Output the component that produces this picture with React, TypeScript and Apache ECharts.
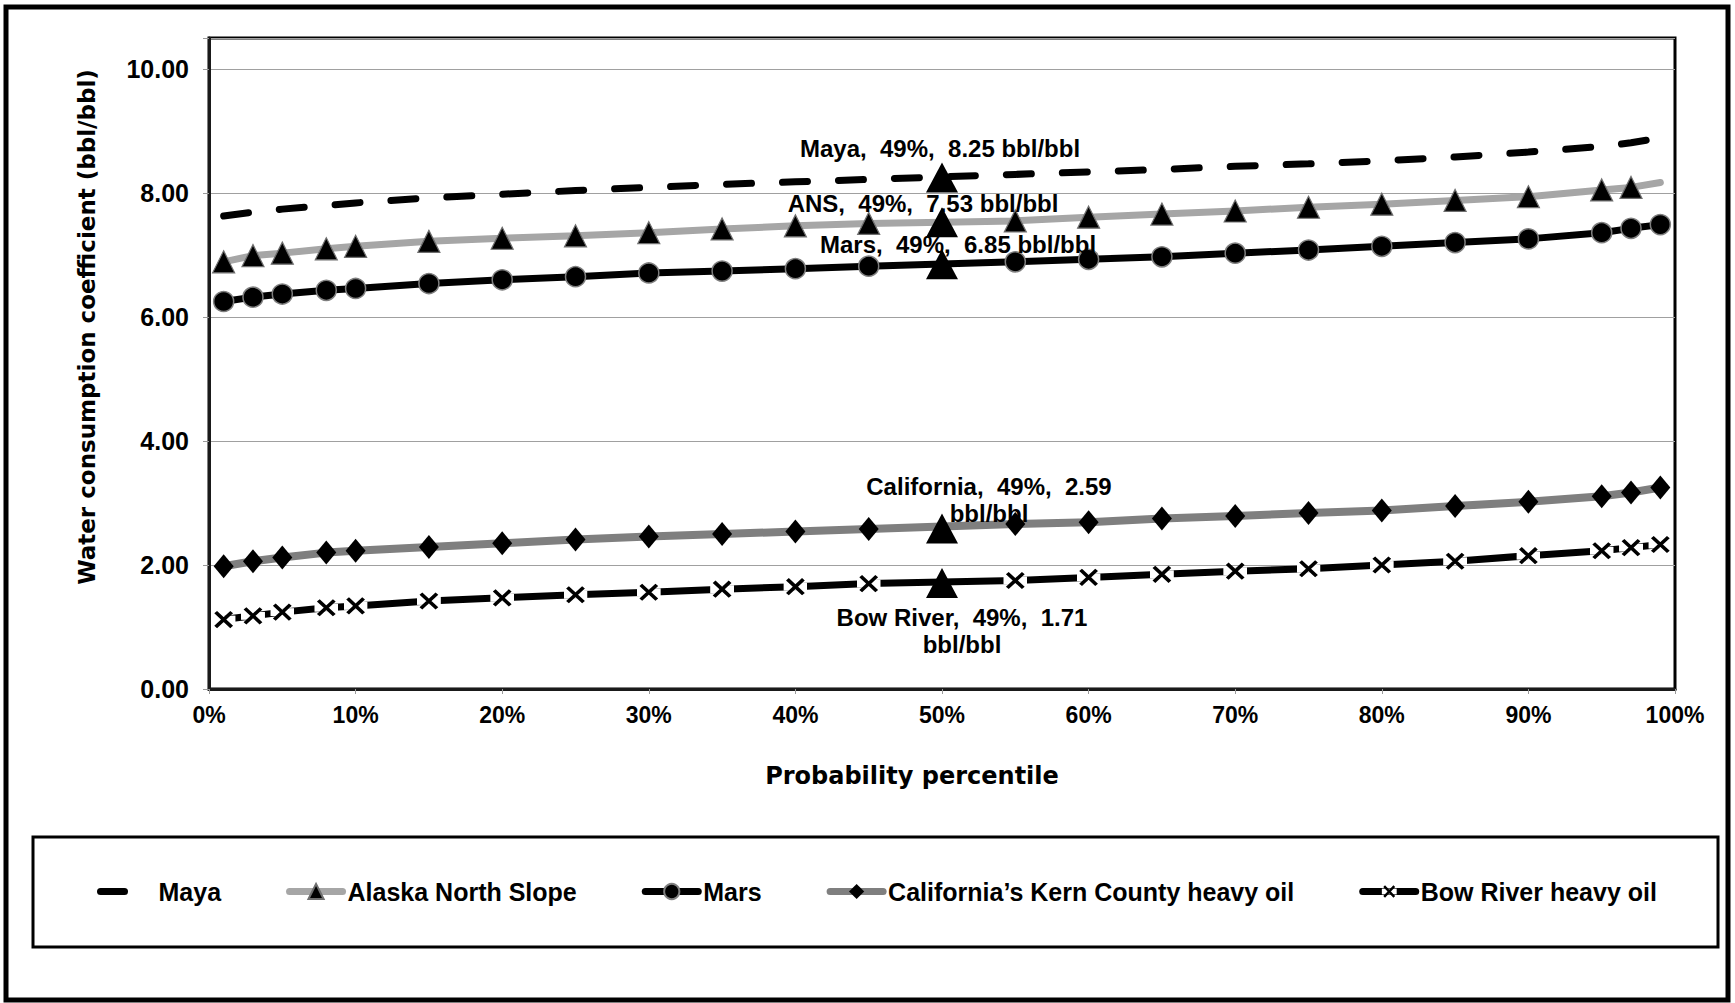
import React, { useEffect, useRef } from 'react';
import * as echarts from 'echarts';

// ---------- data ----------
const percentiles = [1, 3, 5, 8, 10, 15, 20, 25, 30, 35, 40, 45, 55, 60, 65, 70, 75, 80, 85, 90, 95, 97, 99];
const maya = [7.63, 7.69, 7.74, 7.8, 7.84, 7.92, 7.98, 8.04, 8.09, 8.14, 8.18, 8.22, 8.3, 8.34, 8.38, 8.43, 8.47, 8.52, 8.58, 8.66, 8.75, 8.81, 8.89];
const alaskaNorthSlope = [6.89, 6.99, 7.03, 7.1, 7.14, 7.22, 7.27, 7.31, 7.36, 7.42, 7.47, 7.51, 7.55, 7.61, 7.66, 7.71, 7.77, 7.82, 7.88, 7.94, 8.05, 8.09, 8.17];
const mars = [6.25, 6.32, 6.37, 6.43, 6.46, 6.54, 6.6, 6.65, 6.71, 6.74, 6.78, 6.82, 6.89, 6.93, 6.97, 7.03, 7.08, 7.14, 7.2, 7.26, 7.36, 7.43, 7.49];
const california = [1.98, 2.06, 2.12, 2.2, 2.23, 2.29, 2.35, 2.41, 2.46, 2.5, 2.54, 2.58, 2.66, 2.69, 2.75, 2.79, 2.84, 2.88, 2.95, 3.02, 3.11, 3.17, 3.25];
const bowRiver = [1.12, 1.18, 1.24, 1.31, 1.34, 1.42, 1.47, 1.52, 1.56, 1.61, 1.65, 1.7, 1.75, 1.8, 1.85, 1.9, 1.94, 2.0, 2.06, 2.15, 2.23, 2.28, 2.33];
const ansNoMarkerAt = [99];

const seriesNames = ['Maya', 'Alaska North Slope', 'Mars', 'California\u2019s Kern County heavy oil', 'Bow River heavy oil'];

const highlightNames = ['Maya', 'ANS', 'Mars', 'California', 'Bow River'];
const highlightPercentText = [49, 49, 49, 49, 49];
const highlightX = [50, 50, 50, 50, 50];
const highlightY = [8.25, 7.53, 6.85, 2.59, 1.71];
const highlightTwoLines = [false, false, false, true, true];

const yTickStep = 2;
const yMax = 10.5;
const xTickStep = 10;

// ---------- layout (not data) ----------
const highlightLabelOffsets = [
  [-2, -29.5],
  [-19, -18.5],
  [16, -19.5],
  [47, -28.5],
  [20, 48.5],
];

const FONT = '"Liberation Sans", Arial, sans-serif';
const TITLE_FONT = '"DejaVu Sans", sans-serif';

const xMarkSvg =
  '<svg xmlns="http://www.w3.org/2000/svg" width="24" height="21" viewBox="0 0 24 21">' +
  '<rect x="0" y="6" width="24" height="9" fill="#ffffff"/>' +
  '<path d="M4 2 L20 19 M20 2 L4 19" stroke="#000000" stroke-width="3.8" fill="none"/>' +
  '</svg>';
const xMarkSymbol = 'image://data:image/svg+xml;charset=utf-8,' + encodeURIComponent(xMarkSvg);

function pairs(values: number[]) {
  return percentiles.map((p, i) => [p, values[i]]);
}

export default function App() {
  const ref = useRef<HTMLDivElement>(null);

  useEffect(() => {
    if (!ref.current) return;
    const chart = echarts.init(ref.current, undefined, { renderer: 'svg' });

    const lineCommon = {
      type: 'line',
      smooth: false,
      showSymbol: true,
      emphasis: { disabled: true },
      silent: true,
    };

    const highlightData = highlightY.map((y, i) => ({
      value: [highlightX[i], y],
      label: {
        show: true,
        position: 'inside',
        offset: highlightLabelOffsets[i],
        formatter:
          `${highlightNames[i]},  ${highlightPercentText[i]}%,  ${y.toFixed(2)}` +
          (highlightTwoLines[i] ? '\nbbl/bbl' : ' bbl/bbl'),
      },
    }));

    const option: any = {
      animation: false,
      backgroundColor: '#ffffff',
      grid: {
        left: 209,
        top: 38,
        width: 1466,
        height: 651,
        show: true,
        borderColor: '#000000',
        borderWidth: 3,
        backgroundColor: 'transparent',
        containLabel: false,
        outerBoundsMode: 'none',
      },
      xAxis: {
        type: 'value',
        min: 0,
        max: 100,
        interval: xTickStep,
        axisLine: { show: true, onZero: false, lineStyle: { color: '#1a1a1a', width: 3 } },
        axisTick: { show: true, length: 5, lineStyle: { color: '#999999', width: 1 } },
        axisLabel: {
          formatter: (v: number) => `${v}%`,
          margin: 14,
          color: '#000000',
          fontFamily: FONT,
          fontWeight: 'bold',
          fontSize: 23,
        },
        splitLine: { show: false },
      },
      yAxis: {
        type: 'value',
        min: 0,
        max: yMax,
        interval: yTickStep,
        axisLine: { show: true, onZero: false, lineStyle: { color: '#1a1a1a', width: 3 } },
        axisTick: { show: true, length: 6, lineStyle: { color: '#999999', width: 1 } },
        axisLabel: {
          formatter: (v: number) => (Math.abs(v % yTickStep) < 1e-9 ? v.toFixed(2) : ''),
          margin: 20,
          color: '#000000',
          fontFamily: FONT,
          fontWeight: 'bold',
          fontSize: 25,
        },
        splitLine: { show: true, lineStyle: { color: '#a0a0a0', width: 1 } },
      },
      legend: {
        left: 92,
        top: 874,
        itemWidth: 53,
        itemHeight: 19,
        itemGap: 65,
        selectedMode: false,
        lineStyle: { width: 7 },
        textStyle: { fontFamily: FONT, fontWeight: 'bold', fontSize: 25, color: '#000000' },
        data: [
          {
            name: seriesNames[0],
            itemStyle: { opacity: 0 },
            lineStyle: { type: [24, 200], cap: 'round', width: 7 },
          },
          { name: seriesNames[1] },
          { name: seriesNames[2] },
          { name: seriesNames[3] },
          { name: seriesNames[4] },
        ],
      },
      graphic: [
        {
          type: 'rect',
          shape: { x: 6, y: 7, width: 1722, height: 993 },
          style: { fill: 'transparent', stroke: '#000000', lineWidth: 5 },
          silent: true,
        },
        {
          type: 'rect',
          shape: { x: 33, y: 837, width: 1685, height: 110 },
          style: { fill: 'transparent', stroke: '#000000', lineWidth: 3 },
          silent: true,
        },
        {
          type: 'text',
          x: 912,
          y: 776,
          silent: true,
          style: {
            text: 'Probability percentile',
            font: `bold 24px ${TITLE_FONT}`,
            fill: '#000000',
            textAlign: 'center',
            textVerticalAlign: 'middle',
          },
        },
        {
          type: 'text',
          x: 87,
          y: 327,
          rotation: Math.PI / 2,
          silent: true,
          style: {
            text: 'Water consumption coefficient (bbl/bbl)',
            font: `bold 23px ${TITLE_FONT}`,
            fill: '#000000',
            textAlign: 'center',
            textVerticalAlign: 'middle',
          },
        },
      ],
      series: [
        {
          ...lineCommon,
          name: seriesNames[0],
          data: pairs(maya),
          symbol: 'none',
          itemStyle: { color: '#000000' },
          lineStyle: { color: '#000000', width: 7, type: [25, 31], cap: 'round' },
          z: 2,
        },
        {
          ...lineCommon,
          name: seriesNames[1],
          data: percentiles.map((p, i) =>
            ansNoMarkerAt.includes(p)
              ? { value: [p, alaskaNorthSlope[i]], symbol: 'none' }
              : { value: [p, alaskaNorthSlope[i]] }
          ),
          symbol: 'triangle',
          symbolSize: 22,
          itemStyle: { color: '#000000', borderColor: '#6f6f6f', borderWidth: 1.2 },
          lineStyle: { color: '#a6a6a6', width: 7, cap: 'round' },
          z: 3,
        },
        {
          ...lineCommon,
          name: seriesNames[2],
          data: pairs(mars),
          symbol: 'circle',
          symbolSize: 20,
          itemStyle: { color: '#000000', borderColor: '#7f7f7f', borderWidth: 1.5 },
          lineStyle: { color: '#000000', width: 7, cap: 'round' },
          z: 4,
        },
        {
          ...lineCommon,
          name: seriesNames[3],
          data: pairs(california),
          symbol: 'diamond',
          symbolSize: [20, 24],
          itemStyle: { color: '#000000' },
          lineStyle: { color: '#7f7f7f', width: 8, cap: 'round' },
          z: 3,
        },
        {
          ...lineCommon,
          name: seriesNames[4],
          data: pairs(bowRiver),
          symbol: xMarkSymbol,
          symbolSize: [24, 21],
          itemStyle: { color: '#000000' },
          lineStyle: { color: '#000000', width: 7, cap: 'round' },
          z: 3,
        },
        {
          type: 'scatter',
          name: 'highlight49',
          data: highlightData,
          symbol: 'triangle',
          symbolSize: [32, 30],
          itemStyle: { color: '#000000', opacity: 1 },
          silent: true,
          emphasis: { disabled: true },
          label: {
            show: true,
            color: '#000000',
            fontFamily: FONT,
            fontWeight: 'bold',
            fontSize: 24,
            lineHeight: 27,
            align: 'center',
            verticalAlign: 'middle',
          },
          z: 6,
        },
      ],
    };

    chart.setOption(option);
    return () => {
      chart.dispose();
    };
  }, []);

  return (
    <div
      ref={ref}
      style={{ position: 'absolute', left: 0, top: 0, width: 1735, height: 1003, background: '#ffffff' }}
    />
  );
}
